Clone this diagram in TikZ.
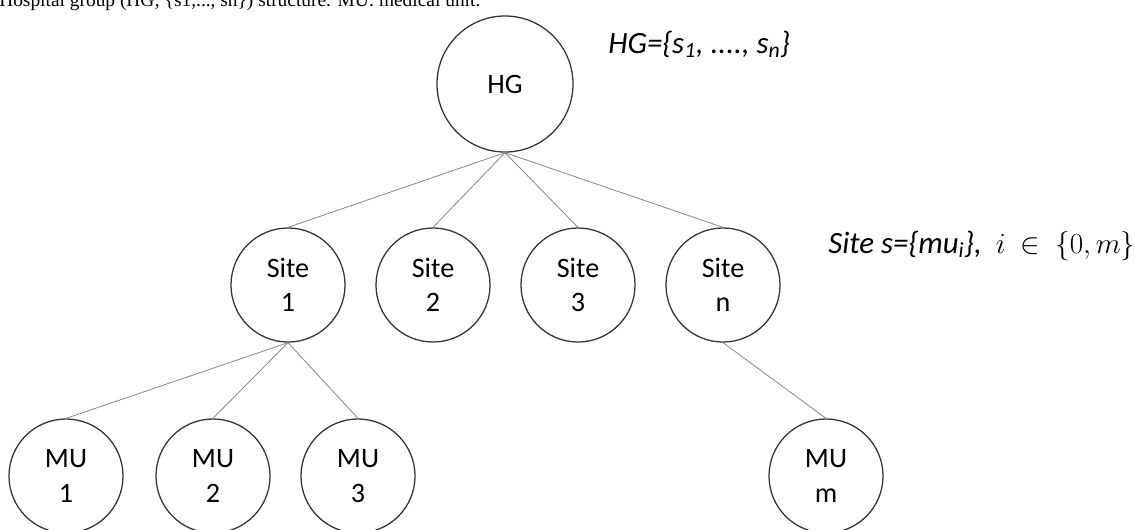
\documentclass[tikz,border=0pt]{standalone}
\usepackage{fontspec}
\setmainfont{Liberation Serif}
\setsansfont{Carlito}
\tikzset{
  unit/.style={circle,draw=black!80,line width=0.9pt,inner sep=0pt,
    minimum size=2.85cm,align=center,font=\sffamily\fontsize{20}{24.5}\selectfont},
  link/.style={draw=black!45,line width=0.6pt},
  formula/.style={anchor=base west,inner sep=0pt,font=\sffamily\itshape\fontsize{22}{26}\selectfont}
}
\begin{document}
\begin{tikzpicture}[x=0.025cm,y=-0.025cm]
   \useasboundingbox (0,0) rectangle (1135,529);
   \node[anchor=base west,inner sep=0pt,font=\fontsize{13.8}{15}\selectfont] (caption) at (-1,6.5)
     {Hospital group (HG; \{s1,..., sn\}) structure. MU: medical unit.};
   % group
   \node[unit,minimum size=3.4cm] (hg) at (505,84) {HG};
   \node[formula] (hglabel) at (608,53) {HG=\{s\textsubscript{1}, ...., s\textsubscript{n}\}};
   % sites
   \node[unit] (s1) at (288,285) {Site\\1};
   \node[unit] (s2) at (433,285) {Site\\2};
   \node[unit] (s3) at (578,285) {Site\\3};
   \node[unit] (sn) at (723,285) {Site\\n};
   \node[formula] (sitelabel) at (828,253) {Site s=\{mu\textsubscript{i}\}, \ $i\ \in\ \{0,m\}$};
   % medical units
   \node[unit] (mu1) at (66,476) {MU\\1};
   \node[unit] (mu2) at (213,476) {MU\\2};
   \node[unit] (mu3) at (358,476) {MU\\3};
   \node[unit] (mum) at (826,476) {MU\\m};
   \foreach \s in {s1,s2,s3,sn}
     \draw[link] (hg.south) -- (\s.north);
   \foreach \m in {mu1,mu2,mu3}
     \draw[link] (s1.south) -- (\m.north);
   \draw[link] (sn.south) -- (mum.north);
\end{tikzpicture}
\end{document}
